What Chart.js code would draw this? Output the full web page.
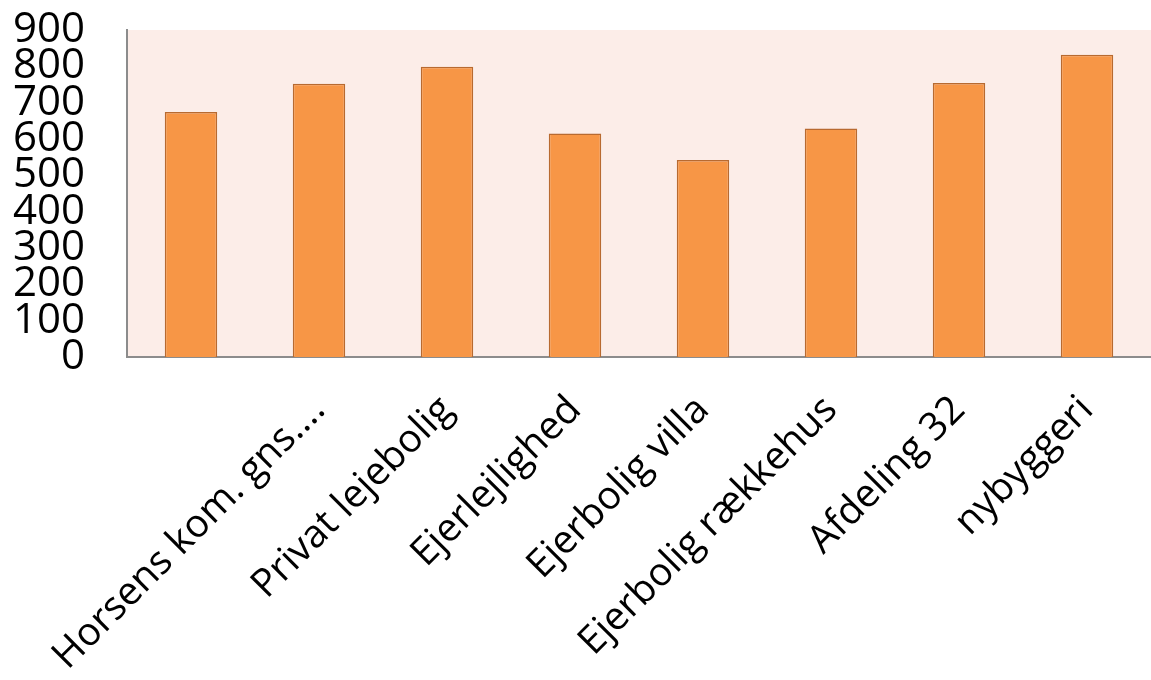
<!DOCTYPE html>
<html>
<head>
<meta charset="utf-8">
<script src="https://cdn.jsdelivr.net/npm/chart.js@4"></script>
<style>
  html, body { margin: 0; padding: 0; background: #fff; }
  #wrap { width: 1151px; height: 680px; }
</style>
</head>
<body>
<div id="wrap"><canvas id="chart"></canvas></div>
<script>
// data: 8 bars, the first one has no label
const labels = ["", "Horsens kom. gns....", "Privat lejebolig", "Ejerlejlighed", "Ejerbolig villa", "Ejerbolig rækkehus", "Afdeling 32", "nybyggeri"];
const values = [674, 752, 799, 615, 542, 629, 754, 832];
const yTicks = [0, 100, 200, 300, 400, 500, 600, 700, 800, 900];

// pink plot area
const plotBg = {
    id: "plotBg",
    beforeDraw(chart) {
        const a = chart.chartArea;
        const c = chart.ctx;
        c.save();
        c.fillStyle = "#FCEDE8";
        c.fillRect(a.left, a.top, a.right - a.left, a.bottom - a.top);
        c.restore();
    },
};

const ctx = document.getElementById("chart").getContext("2d");
const chart = new Chart(ctx,
{
    type: "bar",
    data: {
        labels: labels,
        datasets: [
            {
                data: values,
                backgroundColor: "#F79646",
                borderColor: "#B86A30",
                borderWidth: 1.5,
                barPercentage: 0.41,
                categoryPercentage: 1,
            },
        ],
    },
    options: {
        responsive: true,
        maintainAspectRatio: false,
        animation: false,
        layout: { padding: { top: 30, right: 0, left: 0, bottom: 0 } },
        plugins: {
            legend: { display: false },
            tooltip: { enabled: false },
        },
        scales: {
            x: {
                grid: { display: false },
                border: { display: true, color: "#8C8C8C", width: 2 },
                ticks: {
                    autoSkip: false,
                    minRotation: 45,
                    maxRotation: 45,
                    color: "#000",
                    font: { family: "Open Sans", size: 39 },
                    padding: 22,
                },
                afterFit: (s) => {
                    s.height = 323;
                    s.paddingLeft = 0;
                    s.paddingRight = 0;
                },
            },
            y: {
                min: 0,
                max: 900,
                grid: { display: false },
                border: { display: true, color: "#8C8C8C", width: 2 },
                afterBuildTicks: (s) => { s.ticks = yTicks.map((v) => ({ value: v })); },
                ticks: {
                    autoSkip: false,
                    color: "#000",
                    font: { family: "Open Sans", size: 42 },
                    padding: 34,
                },
                afterFit: (s) => {
                    s.width = 127;
                    s.paddingTop = 0;
                    s.paddingBottom = 0;
                },
            },
        },
    },
    plugins: [plotBg],
});
</script>
</body>
</html>
